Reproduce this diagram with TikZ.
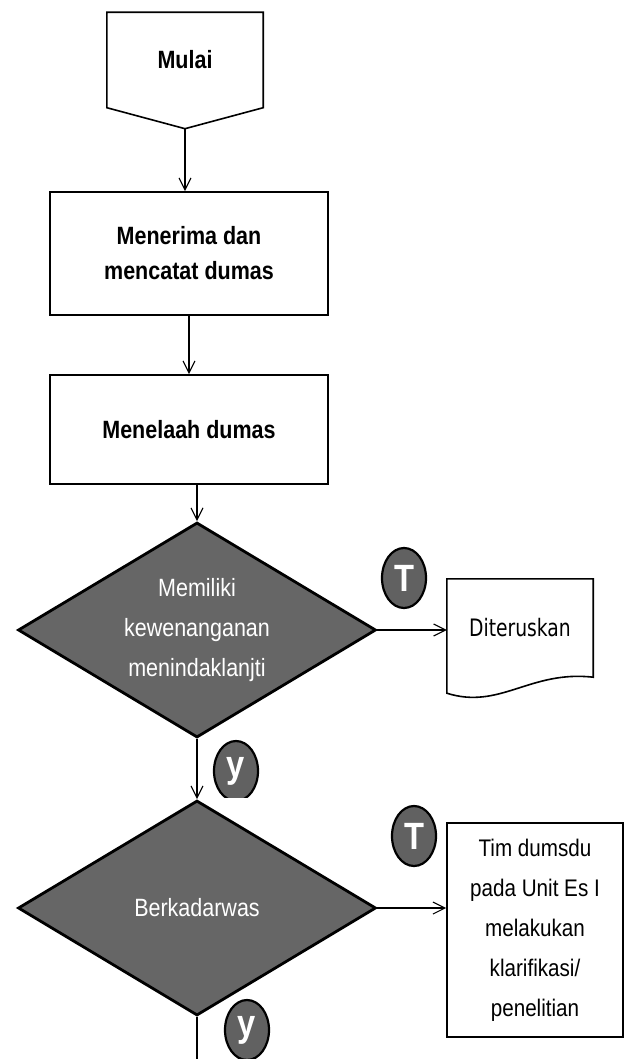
\documentclass[tikz,border=0pt]{standalone}
\usepackage{fontspec}
\setmainfont{Liberation Sans}[FakeStretch=0.86]
\newfontfamily\docfont{DejaVu Sans}[FakeStretch=0.78]
\usetikzlibrary{shapes.geometric,arrows.meta,calc}

\tikzset{
  box/.style={draw, line width=1.6pt, minimum width=278pt, align=center,
    font=\bfseries\fontsize{25}{35}\selectfont},
  decision/.style={diamond, draw, line width=2.8pt, fill=black!60, text=white,
    aspect=1.66, inner sep=0pt, minimum width=358pt, minimum height=215pt,
    align=center, font=\fontsize{25}{40}\selectfont},
  answer/.style={ellipse, draw, line width=2.2pt, fill=black!62, text=white,
    minimum width=44pt, minimum height=60pt, inner sep=0pt,
    font=\bfseries\fontsize{38}{38}\selectfont},
  flow/.style={-{Straight Barb[length=12pt,width=12pt]}, line width=1.1pt},
}

\begin{document}
\begin{tikzpicture}[x=1pt, y=-1pt]
    \useasboundingbox (0,0) rectangle (625,1059);

    % Start
    \node[minimum width=156pt, minimum height=95pt, inner sep=0pt,
          font=\bfseries\fontsize{25}{35}\selectfont] (mulai) at (185,60) {Mulai};
    \coordinate (mulaitip) at ($(mulai.south)+(0,21)$);
    \draw[line width=1.6pt] (mulai.north west) -- (mulai.north east)
        -- (mulai.south east) -- (mulaitip) -- (mulai.south west) -- cycle;

    % Process boxes
    \node[box, minimum height=123pt] (terima) at (189,253.5) {Menerima dan\\mencatat dumas};
    \node[box, minimum height=109pt] (telaah) at (189,429.5) {Menelaah dumas};

    % Decisions
    \node[decision] (cek1) at (197,630) {Memiliki\\kewenanganan\\menindaklanjti};
    \node[decision] (cek2) at (197,908) {Berkadarwas};

    % Outputs
    \node[minimum width=146pt, minimum height=98pt, inner sep=0pt,
          font=\docfont\fontsize{24}{30}\selectfont] (diteruskan) at (520,628) {Diteruskan};
    \draw[line width=1.6pt] (diteruskan.south west) ++(0,16) coordinate (docbl)
        (diteruskan.north west) -- (diteruskan.north east) -- (diteruskan.south east)
        .. controls (530,670) and (500,710) .. (docbl) -- cycle;
    \node[draw, line width=1.6pt, minimum width=176pt, minimum height=214pt, align=center,
          font=\fontsize{24}{40}\selectfont] (tim) at (535,930)
          {Tim dumsdu\\pada Unit Es I\\melakukan\\klarifikasi/\\penelitian};

    % Connectors
    \coordinate (akhir) at (197,1059);
    \draw[flow] (mulaitip) -- (mulaitip |- terima.north);
    \draw[flow] (terima.south) -- (telaah.north);
    \draw[flow] (cek1.north |- telaah.south) -- (cek1.north);
    \draw[flow] (cek1.south) -- (cek2.north);
    \draw[line width=1.1pt] (cek2.south) -- (akhir);
    \draw[flow] (cek1.east) -- (cek1.east -| diteruskan.west);
    \draw[flow] (cek2.east) -- (cek2.east -| tim.west);

    % Answer labels
    \node[answer] (tidak1) at (404,578) {T};
    \begin{scope}
        \clip (0,0) rectangle (625,797);
        \node[answer] (ya1) at (236,771) {y};
    \end{scope}
    \node[answer] (tidak2) at (414,836) {T};
    \node[answer] (ya2) at (247,1030) {y};
\end{tikzpicture}
\end{document}
